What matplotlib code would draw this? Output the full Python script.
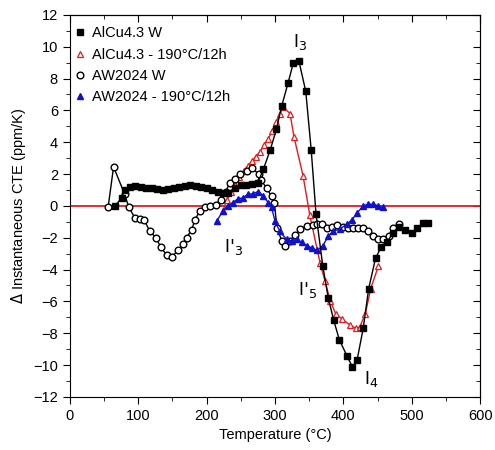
import matplotlib
matplotlib.use("Agg")
import matplotlib.pyplot as plt
from matplotlib.ticker import MultipleLocator

plt.rcParams["font.family"] = ["Liberation Sans", "DejaVu Sans"]

# AlCu4.3 W
t_alcu_w = [66, 76, 80, 88, 96, 104, 112, 120, 128, 136, 144, 152, 160, 168, 176,
            184, 192, 200, 208, 216, 224, 232, 241, 250, 258, 266, 275, 283, 293,
            302, 310, 319, 327, 335, 345, 353, 360, 370, 378, 386, 394, 405, 413,
            420, 429, 437, 447, 455, 464, 472, 481, 490, 500, 508, 516, 524]
v_alcu_w = [0.0, 0.5, 1.0, 1.2, 1.25, 1.2, 1.15, 1.1, 1.05, 1.0, 1.05, 1.1, 1.2,
            1.25, 1.3, 1.25, 1.2, 1.15, 1.0, 0.9, 0.8, 0.8, 1.1, 1.3, 1.3, 1.4,
            1.45, 2.3, 3.5, 4.8, 6.3, 7.7, 9.0, 9.1, 7.2, 3.5, -0.5, -3.8, -5.8,
            -7.2, -8.4, -9.4, -10.1, -9.7, -7.7, -5.2, -3.3, -2.6, -2.3, -1.7,
            -1.3, -1.5, -1.7, -1.4, -1.1, -1.1]

# AlCu4.3 - 190°C/12h
t_alcu_190 = [224, 230, 236, 242, 248, 254, 260, 266, 272, 278, 284, 290, 296, 302,
              307, 312, 322, 328, 341, 351, 366, 373, 381, 389, 398, 410, 419, 424,
              432, 440, 451]
v_alcu_190 = [-0.3, 0.4, 0.9, 1.3, 1.8, 2.2, 2.5, 2.8, 3.1, 3.4, 3.8, 4.2, 4.7, 5.3,
              5.8, 6.2, 5.8, 4.3, 1.9, -0.6, -3.6, -4.7, -6.0, -6.8, -7.1, -7.5,
              -7.7, -7.6, -6.8, -5.2, -3.8]

# AW2024 W
t_aw_w = [56, 64, 80, 86, 95, 103, 109, 117, 126, 133, 142, 149, 158, 166, 171,
          178, 183, 190, 198, 205, 214, 221, 228, 234, 241, 249, 259, 266, 276,
          280, 288, 295, 299, 303, 310, 315, 322, 330, 337, 347, 355, 362, 369,
          376, 383, 391, 400, 407, 414, 422, 429, 436, 444, 451, 458, 466, 473,
          481]
v_aw_w = [-0.1, 2.45, 0.75, -0.05, -0.75, -0.8, -0.9, -1.6, -2.0, -2.6, -3.1,
          -3.2, -2.8, -2.4, -2.0, -1.5, -0.9, -0.3, -0.1, 0.0, 0.05, 0.4, 0.9,
          1.45, 1.7, 2.0, 2.2, 2.4, 2.0, 1.6, 1.1, 0.6, 0.2, -1.4, -2.2, -2.5,
          -2.2, -1.8, -1.45, -1.25, -1.2, -1.15, -1.15, -1.4, -1.3, -1.2, -1.3,
          -1.4, -1.4, -1.4, -1.4, -1.6, -1.9, -2.1, -2.1, -1.9, -1.4, -1.15]

# AW2024 - 190°C/12h
t_aw_190 = [215, 224, 231, 238, 246, 253, 261, 268, 275, 283, 290, 295, 300, 307,
            317, 325, 332, 339, 347, 354, 362, 370, 378, 385, 395, 405, 412, 420,
            429, 436, 444, 451, 458]
v_aw_190 = [-0.95, -0.3, 0.0, 0.2, 0.45, 0.5, 0.75, 0.75, 0.9, 0.65, 0.2, -0.1,
            -0.95, -1.6, -2.1, -2.2, -2.1, -2.3, -2.5, -2.65, -2.8, -2.5, -1.9,
            -1.6, -1.45, -1.15, -0.9, -0.45, 0.0, 0.1, 0.1, 0.0, -0.1]

fig = plt.figure(figsize=(4.95, 4.5), dpi=100)
ax = fig.add_axes([0.141, 0.118, 0.829, 0.849])

ax.axhline(0, color="#e41a1c", lw=1.3, zorder=1)

ax.plot(t_alcu_w, v_alcu_w, color="black", lw=1, marker="s", ms=4.5,
        mfc="black", mec="black", label="AlCu4.3 W", zorder=4)
ax.plot(t_alcu_190, v_alcu_190, color="#e41a1c", lw=1, marker="^", ms=4.5,
        mfc="white", mec="#e41a1c", mew=0.9, label="AlCu4.3 - 190°C/12h", zorder=3)
ax.plot(t_aw_w, v_aw_w, color="black", lw=1, marker="o", ms=4.8,
        mfc="white", mec="black", mew=1, label="AW2024 W", zorder=3)
ax.plot(t_aw_190, v_aw_190, color="#1010d0", lw=1, marker="^", ms=4.8,
        mfc="#1010d0", mec="#1010d0", label="AW2024 - 190°C/12h", zorder=3)

ax.set_xlim(0, 600)
ax.set_ylim(-12, 12)
ax.xaxis.set_major_locator(MultipleLocator(100))
ax.xaxis.set_minor_locator(MultipleLocator(50))
ax.yaxis.set_major_locator(MultipleLocator(2))
ax.yaxis.set_minor_locator(MultipleLocator(1))
ax.tick_params(axis="both", which="both", direction="out", labelsize=10.5,
               top=False, right=False)
ax.tick_params(which="major", length=5)
ax.tick_params(which="minor", length=3)

# inward ticks on top and right
sec_x = ax.secondary_xaxis("top")
sec_x.xaxis.set_major_locator(MultipleLocator(100))
sec_x.xaxis.set_minor_locator(MultipleLocator(50))
sec_x.tick_params(which="both", direction="in", labeltop=False)
sec_x.tick_params(which="major", length=5)
sec_x.tick_params(which="minor", length=3)
sec_y = ax.secondary_yaxis("right")
sec_y.yaxis.set_major_locator(MultipleLocator(2))
sec_y.yaxis.set_minor_locator(MultipleLocator(1))
sec_y.tick_params(which="both", direction="in", labelright=False)
sec_y.tick_params(which="major", length=5)
sec_y.tick_params(which="minor", length=3)

ax.set_xlabel("Temperature (°C)", fontsize=10.5, labelpad=4)
ax.set_ylabel("$\\Delta$ Instantaneous CTE (ppm/K)", fontsize=10.5, labelpad=4)

ax.text(337, 10.3, "I$_3$", fontsize=13, ha="center", va="center")
ax.text(239, -2.6, "I$'_3$", fontsize=13, ha="center", va="center")
ax.text(347, -5.3, "I$'_5$", fontsize=13, ha="center", va="center")
ax.text(440, -10.9, "I$_4$", fontsize=13, ha="center", va="center")

leg = ax.legend(loc="upper left", frameon=False, fontsize=10.5, handlelength=0.6,
                handletextpad=0.5, labelspacing=0.5, borderaxespad=0.0,
                bbox_to_anchor=(0.0, 0.985))
for h in leg.get_lines():
    h.set_linestyle("none")

fig.savefig("out.png", dpi=100)
